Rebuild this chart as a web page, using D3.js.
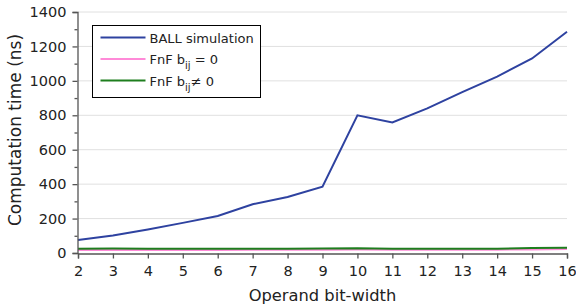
<!DOCTYPE html>
<html>
<head>
<meta charset="utf-8">
<script src="https://cdn.jsdelivr.net/npm/d3@7"></script>
<style>
    body { margin: 0; background: #fff; }
    svg { font-family: "DejaVu Sans", sans-serif; }
</style>
</head>
<body>
<div id="chart"></div>
<script>
const bitWidths = [2, 3, 4, 5, 6, 7, 8, 9, 10, 11, 12, 13, 14, 15, 16];
const ballSim = [75, 102, 137, 175, 215, 283, 325, 385, 800, 758, 840, 935, 1025, 1130, 1285];
const fnfZero = [18, 18, 18, 18, 18, 19, 19, 19, 20, 19, 19, 19, 19, 21, 23];
const fnfNonZero = [25, 26, 24, 24, 24, 25, 25, 26, 28, 25, 25, 25, 25, 29, 31];
const yTicks = [0, 200, 400, 600, 800, 1000, 1200, 1400];

const series = [
    { name: 'BALL simulation', values: ballSim, color: '#2e42a0' },
    { name: 'FnF b', sub: 'ij', tail: ' = 0', values: fnfZero, color: '#ff8ad8' },
    { name: 'FnF b', sub: 'ij', tail: '\u2260 0', values: fnfNonZero, color: '#1e7e1e' }
];

const width = 576, height = 307;
const margin = { top: 12, right: 9, bottom: 54, left: 78 };

const svg = d3.select('#chart').append('svg')
    .attr('width', width)
    .attr('height', height);

const x = d3.scaleLinear().domain([2, 16]).range([margin.left, width - margin.right]);
const y = d3.scaleLinear().domain([0, 1400]).range([height - margin.bottom, margin.top]);

// gridlines
svg.append('g')
    .selectAll('line')
    .data(yTicks.slice(1))
    .join('line')
    .attr('x1', x(2)).attr('x2', x(16))
    .attr('y1', d => y(d)).attr('y2', d => y(d))
    .attr('stroke', '#e0e0e0')
    .attr('stroke-width', 1);

const line = d3.line()
    .x((d, i) => x(bitWidths[i]))
    .y(d => y(d));

svg.append('g')
    .selectAll('path')
    .data(series)
    .join('path')
    .attr('d', d => line(d.values))
    .attr('fill', 'none')
    .attr('stroke', d => d.color)
    .attr('stroke-width', 2);

// axes
const axisColor = '#555';
svg.append('g')
    .attr('transform', `translate(${margin.left - 0.5},0)`)
    .call(d3.axisLeft(y).tickValues(yTicks).tickFormat(d3.format('d')).tickSize(5).tickPadding(6));
svg.append('g')
    .attr('transform', `translate(${margin.left - 0.5},0)`)
    .call(d3.axisLeft(y).tickValues(d3.range(100, 1400, 200)).tickSize(3).tickFormat(''))
    .call(g => g.select('.domain').remove());

svg.append('g')
    .attr('transform', `translate(0,${height - margin.bottom + 0.5})`)
    .call(d3.axisBottom(x).tickValues(bitWidths).tickSize(5).tickPadding(7).tickSizeOuter(5));

svg.selectAll('.domain, .tick line')
    .attr('stroke', axisColor)
    .attr('stroke-width', 1.3);
svg.selectAll('.tick text')
    .attr('fill', '#222')
    .style('font-size', '14.5px')
    .style('font-family', '"DejaVu Sans", sans-serif');

// axis titles
svg.append('text')
    .attr('x', (x(2) + x(16)) / 2)
    .attr('y', height - 6)
    .attr('text-anchor', 'middle')
    .attr('fill', '#222')
    .style('font-size', '16.3px')
    .text('Operand bit-width');

svg.append('text')
    .attr('transform', 'translate(21,130) rotate(-90)')
    .attr('text-anchor', 'middle')
    .attr('fill', '#222')
    .style('font-size', '17px')
    .text('Computation time (ns)');

// legend
const legend = svg.append('g').attr('transform', 'translate(92.5,25.5)');
legend.append('rect')
    .attr('width', 168).attr('height', 72)
    .attr('fill', '#fff')
    .attr('stroke', '#000')
    .attr('stroke-width', 1);

const rows = legend.selectAll('g.row')
    .data(series)
    .join('g')
    .attr('class', 'row')
    .attr('transform', (d, i) => `translate(0,${12 + i * 21.5})`);

rows.append('line')
    .attr('x1', 8).attr('x2', 53)
    .attr('stroke', d => d.color)
    .attr('stroke-width', 2);

const labels = rows.append('text')
    .attr('x', 57)
    .attr('y', 5)
    .attr('fill', '#222')
    .style('font-size', '13px');
labels.append('tspan').text(d => d.name);
labels.filter(d => d.sub).append('tspan')
    .attr('dy', 5).style('font-size', '10px').text(d => d.sub);
labels.filter(d => d.sub).append('tspan')
    .attr('dy', -5).text(d => d.tail);
</script>
</body>
</html>
